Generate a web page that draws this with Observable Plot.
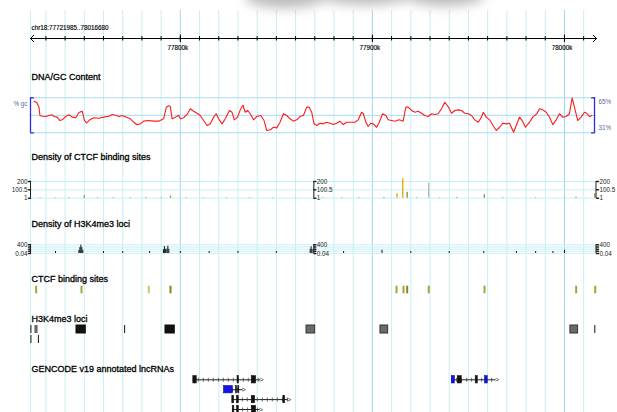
<!DOCTYPE html>
<html><head><meta charset="utf-8">
<script src="https://cdn.jsdelivr.net/npm/d3@7"></script>
<script src="https://cdn.jsdelivr.net/npm/@observablehq/plot@0.6"></script>
<style>
body{margin:0;background:#fff;}
#chart{position:relative;width:617px;height:412px;overflow:hidden;background:#fff;}
#chart svg{position:absolute;left:0;}
.smudge{position:absolute;border-radius:50%;background:#7a7a7a;filter:blur(6px);opacity:.5;}
</style></head><body><div id="chart"></div>
<script>
// ---------- data ----------
const regionLabel = "chr18:77721985..78016680";
const regionStart = 77721.985, regionEnd = 78016.680;          // kb
const gridTicks = d3.range(77730, 78011, 10);                   // 10 kb ticks
const majorTicks = [77800, 77900, 78000];
const majorLabels = ["77800k", "77900k", "78000k"];
const trackNames = ["DNA/GC Content", "Density of CTCF binding sites", "Density of H3K4me3 loci",
  "CTCF binding sites", "H3K4me3 loci", "GENCODE v19 annotated lncRNAs"];

// GC content (%), position in kb
const gcKb = [77723.8,77725.2,77726.4,77726.9,77728.2,77729.9,77731.6,77733.3,77734.2,77735.9,
77737.3,77738.5,77740.3,77742.0,77743.7,77745.5,77747.2,77748.9,77750.1,77751.2,
77752.9,77755.0,77757.6,77760.2,77762.8,77764.5,77766.2,77768.0,77769.7,77771.9,
77774.0,77775.7,77777.5,77779.2,77780.9,77783.5,77786.1,77788.7,77791.3,77792.7,
77793.9,77794.8,77795.7,77797.4,77799.1,77800.0,77801.7,77803.5,77805.2,77806.9,
77808.7,77810.4,77812.1,77813.9,77815.6,77817.3,77818.7,77819.9,77821.7,77823.4,
77825.6,77826.9,77828.1,77829.8,77831.2,77832.6,77833.8,77835.0,77836.4,77838.1,
77839.8,77841.9,77843.6,77845.0,77846.8,77848.5,77850.2,77851.9,77853.7,77855.4,
77857.1,77858.9,77860.6,77862.3,77864.1,77865.8,77867.1,77868.4,77869.6,77871.0,
77872.7,77874.4,77876.2,77877.9,77879.7,77881.4,77883.1,77884.8,77886.6,77888.3,
77890.9,77892.6,77894.4,77895.3,77896.6,77897.8,77899.1,77900.4,77902.2,77903.6,
77905.3,77907.0,77908.2,77910.0,77911.7,77913.9,77916.0,77917.4,77918.6,77920.4,
77922.1,77923.8,77925.6,77927.3,77929.0,77930.8,77932.5,77934.2,77936.0,77937.7,
77939.4,77941.2,77942.9,77944.6,77946.4,77948.1,77949.9,77951.6,77953.3,77955.1,
77956.8,77957.7,77959.3,77961.0,77962.8,77964.5,77966.2,77968.0,77969.7,77971.4,
77973.5,77974.9,77976.6,77978.0,77979.7,77981.8,77983.5,77985.6,77987.0,77988.7,
77990.5,77992.2,77993.9,77995.7,77997.4,77999.1,78000.9,78002.6,78004.0,78005.2,
78006.9,78008.7,78010.4,78011.6,78013.0,78014.4];
const gcPct = [61.7,60.4,55.9,47.8,47.1,46.8,47.8,48.5,46.8,46.2,
42.9,43.6,46.8,48.5,46.2,45.6,50.7,52.0,42.9,40.7,
43.6,45.6,45.2,46.2,47.1,48.8,48.1,46.8,47.8,46.2,
44.6,41.3,38.8,39.7,42.3,42.9,42.3,42.3,44.6,55.9,
57.2,56.5,44.6,46.2,48.1,44.6,45.6,48.8,54.3,52.0,
50.0,47.8,42.9,38.1,39.7,46.2,49.5,44.6,39.7,44.6,
52.7,51.0,43.6,46.2,53.3,57.8,51.0,52.7,49.5,43.6,
46.8,47.8,42.9,33.2,33.9,36.4,35.8,41.3,49.5,47.8,
44.6,42.3,43.6,46.8,47.8,55.9,55.9,51.0,39.7,38.1,
40.3,39.7,41.3,40.3,39.0,40.3,42.3,39.0,41.3,41.3,
41.3,43.6,51.0,49.5,41.3,37.1,40.3,39.7,36.4,41.3,
49.5,47.8,43.6,42.9,42.3,43.6,42.3,55.9,55.9,52.7,
51.0,52.0,50.0,47.8,46.8,49.5,48.8,49.5,54.3,60.7,
56.5,50.0,52.7,53.3,52.7,50.0,49.5,47.8,43.6,41.3,
46.2,51.0,46.2,43.6,38.1,33.2,36.4,40.3,39.7,40.3,
31.6,38.1,46.2,42.9,36.4,41.3,46.2,49.5,54.3,53.3,
51.0,46.2,39.0,43.6,49.5,46.2,46.8,49.5,65.0,55.9,
42.9,46.2,51.0,50.0,46.8,47.8];
const gcTicks = [31, 48, 65];
const gcLabels = ["31%", "65%"];

// density scale bars sit at block boundaries
const scaleBarKb = [regionStart, 77869.5, regionEnd];

// Density of CTCF binding sites
const ctcfDensKb  = [77727,77735,77742,77750,77757,77765,77774,77782,77790,77794.9,77803,77812,77824,77836,77848,77860,77874,77884,77893,77906,77912.8,77915.8,77918.1,77923,77929.3,77935,77944,77958.3,77968,77985,78000,78006,78015.8];
const ctcfDensVal = [6,5,6,30,6,5,7,8,6,25,6,5,6,7,6,5,6,5,6,8,53,232,73,7,180,6,8,42,6,6,5,12,53];
const ctcfDensKind = ["a","a","a","a","a","a","a","a","a","a","a","a","a","a","a","a","a","a","a","a","b","b","a","a","c","a","a","a","a","a","a","a","a"];
const ctcfDensTicks = [1, 100.5, 200];
const ctcfDensLabels = ["1", "100.5", "200"];

// Density of H3K4me3 loci (log scale)
const h3DensKb  = [77735,77747.2,77747.7,77748.2,77748.7,77749.2,77760,77770,77784,77791.2,77791.7,77792.2,77793.0,77793.5,77794.0,77800,77815,77830,77850,77867.6,77868.1,77868.6,77885,77905,77920,77940,77958,77975,77985,77994,78000];
const h3DensVal = [0.3,1,20,300,20,1,0.3,0.3,0.3,2,60,3,4,90,3,0.3,0.3,0.3,0.3,3,50,3,0.3,1.2,0.3,0.3,0.3,0.3,0.3,0.3,1.2];
const h3DensTicks = [0.04, 0.4, 4, 40, 400];
const h3DensLabels = ["0.04", "400"];

// CTCF binding sites
const ctcfSiteKb = [77724.95,77748.54,77783.58,77794.88,77912.55,77916.19,77918.11,77929.36,77958.36,78006.10,78016.0];
const ctcfSiteScore = [2,2,1,3,2,2,3,2,2,2,2];

// H3K4me3 loci
const h3Start = [77745.93,77792.27,77865.7,77904.2,78003.1];
const h3End   = [77750.78,77797.11,77870.2,77908.2,78007.1];
const h3Row   = [0,0,0,0,0];
const h3Score = [2,2,1,1,1];
const h3ThinKb  = [77722.2,77724.4,77725.3,77771.0,78015.8,77722.2,77726.1];
const h3ThinRow = [0,0,0,0,0,1,1];

// GENCODE v19 lncRNA transcripts and exons
const txStart = [77806.77,77827.29,77827.08,77827.29,77941.35];
const txEnd   = [77841.88,77832.6,77856.25,77841.51,77964.43];
const txRow   = [0,1,2,3,0];
const exStart = [77806.77,77829.79,77837.19, 77822.76,77829.0,77830.2, 77827.08,77829.53,77837.19,77853.65, 77827.29,77829.53,77837.19, 77941.35,77944.43,77953.8,77958.65];
const exEnd   = [77808.54,77830.42,77839.43, 77827.29,77829.5,77830.7, 77827.97,77830.42,77838.91,77854.53, 77828.1,77830.42,77839.43, 77942.92,77946.51,77954.84,77960.05];
const exRow   = [0,0,0, 1,1,1, 2,2,2,2, 3,3,3, 0,0,0,0];
const exKind  = ["e","e","e", "u","e","e", "e","e","e","e", "e","e","e", "u","e","e","u"];

// ---------- drawing ----------
const FONT = "'Liberation Sans', Arial, sans-serif";
const MINOR = "#c8eff4", MAJOR = "#a3d8ec", HLINE = "#a8dcee", BLUE = "#2b2bd8", LBLUE = "#5b6ba3";
const chart = document.getElementById("chart");
const base = {width: 617, marginLeft: 30, marginRight: 21,
  style: {background: "transparent", fontFamily: FONT, overflow: "visible", color: "#000"}};
const xOpt = {domain: [regionStart, regionEnd], axis: null};
function put(svg, top) { svg.style.top = top + "px"; chart.appendChild(svg); }
const lineShape = {draw(ctx, l) { ctx.moveTo(0, 0); ctx.lineTo(0, -l); }};
const labelDy = [69.5, 149.7, 216.5, 271.5, 311.5, 361.5];

// background grid + track names
put(Plot.plot({...base, height: 412, marginTop: 10, marginBottom: 0, x: xOpt, marks: [
  Plot.ruleX([regionStart], {stroke: MINOR}),
  Plot.ruleX(gridTicks.filter(t => !majorTicks.includes(t)), {stroke: MINOR}),
  Plot.ruleX(majorTicks, {stroke: MAJOR}),
  ...trackNames.map((n, i) => Plot.text([n], {frameAnchor: "top-left", text: d => d, dx: 1, dy: labelDy[i],
    lineAnchor: "bottom", textAnchor: "start", fontSize: 9, fill: "#000", stroke: "#000", strokeWidth: 0.3}))
]}), 0);

// top ruler
const mid = (regionStart + regionEnd) / 2;
put(Plot.plot({...base, height: 55, marginTop: 33, marginBottom: 12, x: xOpt, y: {domain: [-1, 1], axis: null}, marks: [
  Plot.arrow([0], {x1: mid, y1: 0, x2: regionStart, y2: 0, headLength: 7, headAngle: 90, strokeWidth: 1, stroke: "#000"}),
  Plot.arrow([0], {x1: mid, y1: 0, x2: regionEnd, y2: 0, headLength: 7, headAngle: 90, strokeWidth: 1, stroke: "#000"}),
  Plot.ruleX(gridTicks, {y1: -0.5, y2: 0.4, stroke: "#000"}),
  Plot.ruleX(majorTicks, {y1: -0.8, y2: 0.7, stroke: "#000"}),
  Plot.text(majorTicks, {x: d => d, y: -1, text: (d, i) => majorLabels[i], dy: 4.3, dx: -2.5, fontSize: 6.3, fill: "#000", stroke: "#000", strokeWidth: 0.15}),
  Plot.text([regionLabel], {x: regionStart, y: 1, text: d => d, textAnchor: "start", dx: 1, dy: -5.7, fontSize: 6.3, fill: "#000", stroke: "#000", strokeWidth: 0.15})
]}), 0);

// GC content
const gcData = gcKb.map((k, i) => ({k, v: gcPct[i]}));
put(Plot.plot({...base, height: 50, marginTop: 7.3, marginBottom: 7.7, x: xOpt, y: {domain: [31, 65], axis: null}, marks: [
  Plot.ruleY(gcTicks, {stroke: HLINE}),
  Plot.line(gcData, {x: "k", y: "v", stroke: "#ff1a1a", strokeWidth: 1.1}),
  Plot.ruleX([regionStart], {y1: 31, y2: 65, stroke: BLUE, strokeWidth: 1.3}),
  Plot.vector([31, 65], {x: regionStart, y: d => d, length: 3, rotate: 90, anchor: "start", shape: lineShape, stroke: BLUE, strokeWidth: 1.3}),
  Plot.ruleX([regionEnd], {y1: 31, y2: 65, dx: -2, stroke: BLUE, strokeWidth: 1.3}),
  Plot.vector([31, 65], {x: regionEnd, y: d => d, dx: -2, length: 3, rotate: -90, anchor: "start", shape: lineShape, stroke: BLUE, strokeWidth: 1.3}),
  Plot.text(["% gc"], {x: regionStart, y: 65, text: d => d, textAnchor: "end", dx: -3, dy: 6, fontSize: 6.3, fill: LBLUE}),
  Plot.text([65], {x: regionEnd, y: d => d, text: () => gcLabels[1], textAnchor: "start", dx: 2, dy: 4, fontSize: 6.3, fill: LBLUE}),
  Plot.text([31], {x: regionEnd, y: d => d, text: () => gcLabels[0], textAnchor: "start", dx: 2, dy: -4.5, fontSize: 6.3, fill: LBLUE})
]}), 90);

function scaleBars(ticks, labelVals, labels, lo, hi) {
  const marks = [];
  scaleBarKb.forEach((xa, j) => {
    const side = j === 0 ? -1 : 1;
    marks.push(Plot.ruleX([xa], {y1: lo, y2: hi, stroke: "#222", dx: j === 2 ? -0.5 : 0}));
    marks.push(Plot.vector(ticks, {x: xa, y: d => d, length: 2, rotate: side < 0 ? -90 : 90, anchor: "start", shape: lineShape, stroke: "#222"}));
    marks.push(Plot.text(labelVals, {x: xa, y: d => d, text: (d, i) => labels[i], textAnchor: side < 0 ? "end" : "start",
      dx: side * 3, fontSize: 6.3, fill: "#222"}));
  });
  return marks;
}

// Density of CTCF binding sites
const ctcfDens = ctcfDensKb.map((k, i) => ({k, v: ctcfDensVal[i], c: ctcfDensKind[i]}));
put(Plot.plot({...base, height: 40, marginTop: 11, marginBottom: 12.3, x: xOpt, y: {domain: [1, 200], axis: null},
  color: {domain: ["a", "b", "c"], range: ["#8d8d3a", "#e0a800", "#b9b9b9"]}, marks: [
  Plot.ruleY(ctcfDensTicks, {stroke: MINOR}),
  Plot.ruleX(ctcfDens, {x: "k", y1: 1, y2: "v", stroke: "c", strokeWidth: 1.3}),
  ...scaleBars(ctcfDensTicks, ctcfDensTicks, ctcfDensLabels, 1, 200)
]}), 170);

// Density of H3K4me3 loci
const h3Dens = h3DensKb.map((k, i) => ({k, v: h3DensVal[i]}));
put(Plot.plot({...base, height: 30, marginTop: 9.3, marginBottom: 12, x: xOpt, y: {type: "log", domain: [0.04, 400], axis: null}, marks: [
  Plot.ruleY(h3DensTicks, {stroke: MINOR}),
  Plot.ruleX(h3Dens, {x: "k", y1: 0.04, y2: "v", stroke: "#111", strokeWidth: 1}),
  ...scaleBars(h3DensTicks, [0.04, 400], h3DensLabels, 0.04, 400)
]}), 235);

// CTCF binding sites
const ctcfSites = ctcfSiteKb.map((k, i) => ({k, s: ctcfSiteScore[i]}));
put(Plot.plot({...base, height: 20, marginTop: 5.7, marginBottom: 6.7, x: xOpt,
  color: {type: "ordinal", domain: [1, 2, 3], range: ["#c8c870", "#a6a23a", "#8a8618"]}, marks: [
  Plot.tickX(ctcfSites, {x: "k", stroke: "s", strokeWidth: 2})
]}), 280);

// H3K4me3 loci
const h3Loci = h3Start.map((s, i) => ({s, e: h3End[i], r: h3Row[i], sc: h3Score[i]}));
const h3Thin = h3ThinKb.map((k, i) => ({k, r: h3ThinRow[i]}));
put(Plot.plot({...base, height: 30, marginTop: 5, marginBottom: 6, x: xOpt,
  y: {type: "band", domain: [0, 1], paddingInner: 0.18, paddingOuter: 0, axis: null}, marks: [
  Plot.barX(h3Loci, {x1: "s", x2: "e", y: "r", fill: d => d.sc === 1 ? "#6a6a6a" : "#111", stroke: d => d.sc === 1 ? "#333" : "#111", strokeWidth: 1}),
  Plot.tickX(h3Thin, {x: "k", y: "r", stroke: "#111", strokeWidth: 1})
]}), 320);

// GENCODE lncRNAs
const tx = txStart.map((s, i) => ({s, e: txEnd[i], r: txRow[i]}));
const ex = exStart.map((s, i) => ({s, e: exEnd[i], r: exRow[i], k: exKind[i]}));
put(Plot.plot({...base, height: 56, marginTop: 0, marginBottom: 0, x: xOpt,
  y: {domain: [-0.5, 3.5], range: [14.35, 53.95], axis: null}, marks: [
  Plot.ruleY(tx, {x1: "s", x2: "e", y: "r", stroke: "#222", strokeWidth: 1}),
  Plot.ruleY(tx, {x1: "s", x2: "e", y: "r", stroke: "#444", strokeWidth: 4, strokeDasharray: "0.8 4.2"}),
  Plot.text(tx, {x: "e", y: "r", text: () => ">", textAnchor: "start", dx: -1, fontSize: 6.5, fill: "#222"}),
  Plot.rect(ex, {x1: "s", x2: "e", y1: "r", y2: "r", insetTop: -3.65, insetBottom: -3.65,
    fill: d => d.k === "u" ? "#1414e6" : "#111", stroke: d => d.k === "u" ? "#0a0a90" : "#111", strokeWidth: 0.6})
]}), 360);

// faint paper smudge at the top
[[245, -14, 80, 22], [320, -13, 90, 18], [405, -16, 80, 22]].forEach(([l, t, w, h]) => {
  const d = document.createElement("div"); d.className = "smudge";
  Object.assign(d.style, {left: l + "px", top: t + "px", width: w + "px", height: h + "px"});
  chart.appendChild(d);
});
</script></body></html>
